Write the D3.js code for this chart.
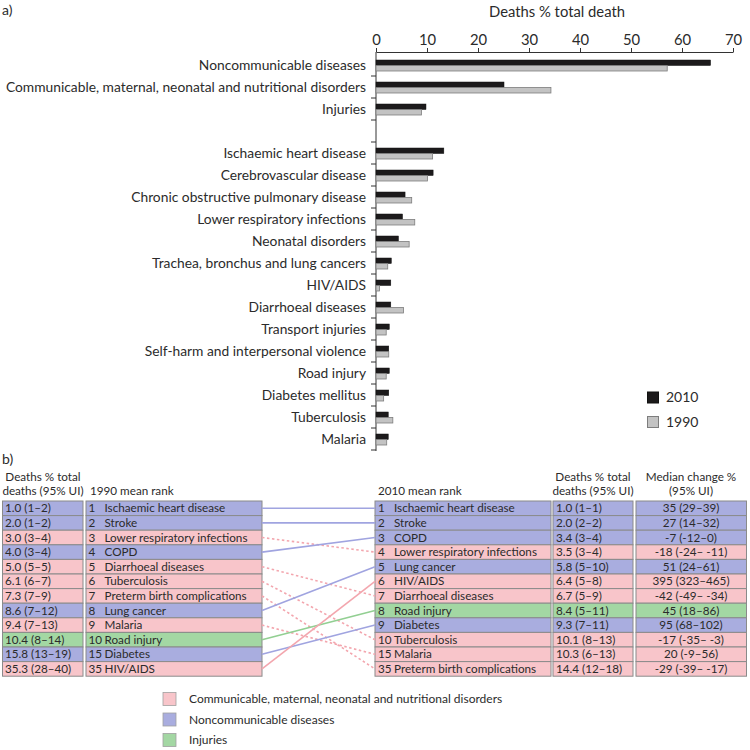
<!DOCTYPE html>
<html><head><meta charset="utf-8">
<script src="https://cdn.jsdelivr.net/npm/d3@7"></script>
<style>
html,body{margin:0;padding:0;background:#fff;}
svg{display:block;font-family:Lato,"Open Sans",sans-serif;}
</style></head>
<body>
<svg id="chart" width="750" height="750"></svg>
<script>
// ---------- Panel a data ----------
const groupCategories = ["Noncommunicable diseases","Communicable, maternal, neonatal and nutritional disorders","Injuries"];
const causeCategories = ["Ischaemic heart disease","Cerebrovascular disease","Chronic obstructive pulmonary disease","Lower respiratory infections","Neonatal disorders","Trachea, bronchus and lung cancers","HIV/AIDS","Diarrhoeal diseases","Transport injuries","Self-harm and interpersonal violence","Road injury","Diabetes mellitus","Tuberculosis","Malaria"];
const groupValues2010 = [65.6, 25.1, 9.8];
const groupValues1990 = [57.1, 34.3, 8.9];
const causeValues2010 = [13.3, 11.2, 5.7, 5.2, 4.4, 3.0, 2.9, 2.9, 2.6, 2.5, 2.6, 2.5, 2.4, 2.4];
const causeValues1990 = [11.1, 10.1, 7.0, 7.6, 6.5, 2.3, 0.7, 5.4, 2.0, 2.5, 2.0, 1.5, 3.3, 2.1];
const xTicks = [0,10,20,30,40,50,60,70];
const seriesNames = ["2010","1990"];

// ---------- Panel b data ----------
const rank1990 = [1,2,3,4,5,6,7,8,9,10,15,35];
const causes1990 = ["Ischaemic heart disease","Stroke","Lower respiratory infections","COPD","Diarrhoeal diseases","Tuberculosis","Preterm birth complications","Lung cancer","Malaria","Road injury","Diabetes","HIV/AIDS"];
const deaths1990 = ["1.0 (1–2)","2.0 (1–2)","3.0 (3–4)","4.0 (3–4)","5.0 (5–5)","6.1 (6–7)","7.3 (7–9)","8.6 (7–12)","9.4 (7–13)","10.4 (8–14)","15.8 (13–19)","35.3 (28–40)"];
const rank2010 = [1,2,3,4,5,6,7,8,9,10,15,35];
const causes2010 = ["Ischaemic heart disease","Stroke","COPD","Lower respiratory infections","Lung cancer","HIV/AIDS","Diarrhoeal diseases","Road injury","Diabetes","Tuberculosis","Malaria","Preterm birth complications"];
const deaths2010 = ["1.0 (1–1)","2.0 (2–2)","3.4 (3–4)","3.5 (3–4)","5.8 (5–10)","6.4 (5–8)","6.7 (5–9)","8.4 (5–11)","9.3 (7–11)","10.1 (8–13)","10.3 (6–13)","14.4 (12–18)"];
const medianChange = ["35 (29–39)","27 (14–32)","-7 (-12–0)","-18 (-24– -11)","51 (24–61)","395 (323–465)","-42 (-49– -34)","45 (18–86)","95 (68–102)","-17 (-35– -3)","20 (-9–56)","-29 (-39– -17)"];
const causeGroup = {"Ischaemic heart disease":"N","Stroke":"N","COPD":"N","Lung cancer":"N","Diabetes":"N","Lower respiratory infections":"C","Diarrhoeal diseases":"C","Tuberculosis":"C","Preterm birth complications":"C","Malaria":"C","HIV/AIDS":"C","Road injury":"I"};
const legendGroups = ["C","N","I"];
const legendLabels = ["Communicable, maternal, neonatal and nutritional disorders","Noncommunicable diseases","Injuries"];

const fillColor = {C:"#f8c5ca", N:"#a9addf", I:"#a3d7a3"};
const lineColor = {C:"#f3a6ae", N:"#a0a4e0", I:"#92cf92"};
const textColor = "#2b2b2b";

const svg = d3.select("#chart");

// ================= Panel a =================
svg.append("text").attr("x",2).attr("y",15).attr("font-size",14).attr("fill",textColor).text("a)");

const x = d3.scaleLinear().domain([0,70]).range([376,733]);
const gapKey = "__gap__";
const domainKeys = [...groupCategories, gapKey, ...causeCategories];
const y = d3.scaleBand().domain(domainKeys).range([54, 54 + 22*domainKeys.length]).padding(0);

const rows = [];
groupCategories.forEach((c,i)=>rows.push({name:c, v2010:groupValues2010[i], v1990:groupValues1990[i]}));
causeCategories.forEach((c,i)=>rows.push({name:c, v2010:causeValues2010[i], v1990:causeValues1990[i]}));

// title
svg.append("text").attr("x",557).attr("y",17).attr("text-anchor","middle")
  .attr("font-size",14.8).attr("fill",textColor).text("Deaths % total death");

// top axis
const xAxis = svg.append("g").attr("transform","translate(0,52)")
  .call(d3.axisTop(x).tickValues(xTicks).tickSize(4).tickPadding(3).tickSizeOuter(0));
xAxis.select(".domain").attr("stroke","#333");
xAxis.selectAll(".tick line").attr("stroke","#333");
xAxis.selectAll("text").attr("font-size",14.8).attr("fill",textColor).attr("font-family","Lato, sans-serif");

// left axis line and ticks at band boundaries
svg.append("line").attr("x1",376).attr("x2",376).attr("y1",52).attr("y2",y.range()[1]+1)
  .attr("stroke","#333").attr("stroke-width",1);
const boundaries = domainKeys.map(k=>y(k)+y.bandwidth());
svg.append("g").selectAll("line").data(boundaries).join("line")
  .attr("x1",371).attr("x2",376).attr("y1",d=>d).attr("y2",d=>d)
  .attr("stroke","#333").attr("stroke-width",1);

// bars
const barG = svg.append("g");
barG.selectAll("rect.b2010").data(rows).join("rect").attr("class","b2010")
  .attr("x",x(0)).attr("y",d=>y(d.name)+6).attr("height",5.5)
  .attr("width",d=>x(d.v2010)-x(0)).attr("fill","#1c1a1b").attr("stroke","#111").attr("stroke-width",0.5);
barG.selectAll("rect.b1990").data(rows).join("rect").attr("class","b1990")
  .attr("x",x(0)).attr("y",d=>y(d.name)+11.5).attr("height",5.5)
  .attr("width",d=>x(d.v1990)-x(0)).attr("fill","#c3c3c3").attr("stroke","#7d7d7d").attr("stroke-width",0.8);

// labels
svg.append("g").selectAll("text").data(rows).join("text")
  .attr("x",366).attr("y",d=>y(d.name)+11.5).attr("dy","0.35em")
  .attr("text-anchor","end").attr("font-size",13.8).attr("fill",textColor).text(d=>d.name);

// legend a
const legA = svg.append("g");
seriesNames.forEach((s,i)=>{
  legA.append("rect").attr("x",647.5).attr("y",392+i*24.5).attr("width",11).attr("height",11)
    .attr("fill", i===0?"#1c1a1b":"#c3c3c3").attr("stroke", i===0?"#111":"#7d7d7d");
  legA.append("text").attr("x",666).attr("y",397.5+i*24.5).attr("dy","0.35em")
    .attr("font-size",14).attr("fill",textColor).text(s);
});

// ================= Panel b =================
svg.append("text").attr("x",2).attr("y",464).attr("font-size",14).attr("fill",textColor).text("b)");

const rowTop = 501, rowH = 14.6;
const ry = i => rowTop + i*rowH;
const fs = 11.7;

function header(xp, lines, anchor){
  lines.forEach((l,i)=>{
    svg.append("text").attr("x",xp).attr("y",481+i*13.5).attr("text-anchor",anchor)
      .attr("font-size",fs).attr("fill",textColor).text(l);
  });
}
header(43, ["Deaths % total","deaths (95% UI)"], "middle");
svg.append("text").attr("x",90).attr("y",494.5).attr("font-size",fs).attr("fill",textColor).text("1990 mean rank");
svg.append("text").attr("x",378).attr("y",494.5).attr("font-size",fs).attr("fill",textColor).text("2010 mean rank");
header(593, ["Deaths % total","deaths (95% UI)"], "middle");
header(691, ["Median change %","(95% UI)"], "middle");

function cells(x0, w, groups){
  svg.append("g").selectAll("rect").data(groups).join("rect")
    .attr("x",x0).attr("y",(d,i)=>ry(i)).attr("width",w).attr("height",rowH)
    .attr("fill",d=>fillColor[d]).attr("stroke","#8a8a8a").attr("stroke-width",1);
}
function texts(xp, arr, anchor){
  svg.append("g").selectAll("text").data(arr).join("text")
    .attr("x",xp).attr("y",(d,i)=>ry(i)+rowH/2).attr("dy","0.35em").attr("text-anchor",anchor)
    .attr("font-size",fs).attr("fill",textColor).text(d=>d);
}

const groups1990 = causes1990.map(c=>causeGroup[c]);
const groups2010 = causes2010.map(c=>causeGroup[c]);

cells(2.5, 80.5, groups1990);
cells(86, 176, groups1990);
cells(375, 176, groups2010);
cells(553, 80, groups2010);
cells(636, 110.5, groups2010);

texts(5, deaths1990, "start");
texts(88.5, rank1990, "start");
texts(104.5, causes1990, "start");
texts(378, rank2010, "start");
texts(394, causes2010, "start");
texts(556, deaths2010, "start");
texts(691, medianChange, "middle");

// connecting lines
const links = causes1990.map((c,i)=>({c, i, j:causes2010.indexOf(c), g:causeGroup[c]}));
svg.append("g").selectAll("line").data(links).join("line")
  .attr("x1",262).attr("x2",375)
  .attr("y1",d=>ry(d.i)+rowH/2).attr("y2",d=>ry(d.j)+rowH/2)
  .attr("stroke",d=>lineColor[d.g]).attr("stroke-width",1.6)
  .attr("stroke-dasharray",d=>d.j>d.i?"2.5,2.5":null);

// legend b
const legB = svg.append("g");
legendGroups.forEach((g,i)=>{
  legB.append("rect").attr("x",163).attr("y",692.5+i*20.5).attr("width",13).attr("height",13)
    .attr("fill",fillColor[g]).attr("stroke","#a0a0a0").attr("stroke-width",0.8);
  legB.append("text").attr("x",189).attr("y",699+i*20.5).attr("dy","0.35em")
    .attr("font-size",12).attr("fill",textColor).text(legendLabels[i]);
});
</script>
</body></html>
